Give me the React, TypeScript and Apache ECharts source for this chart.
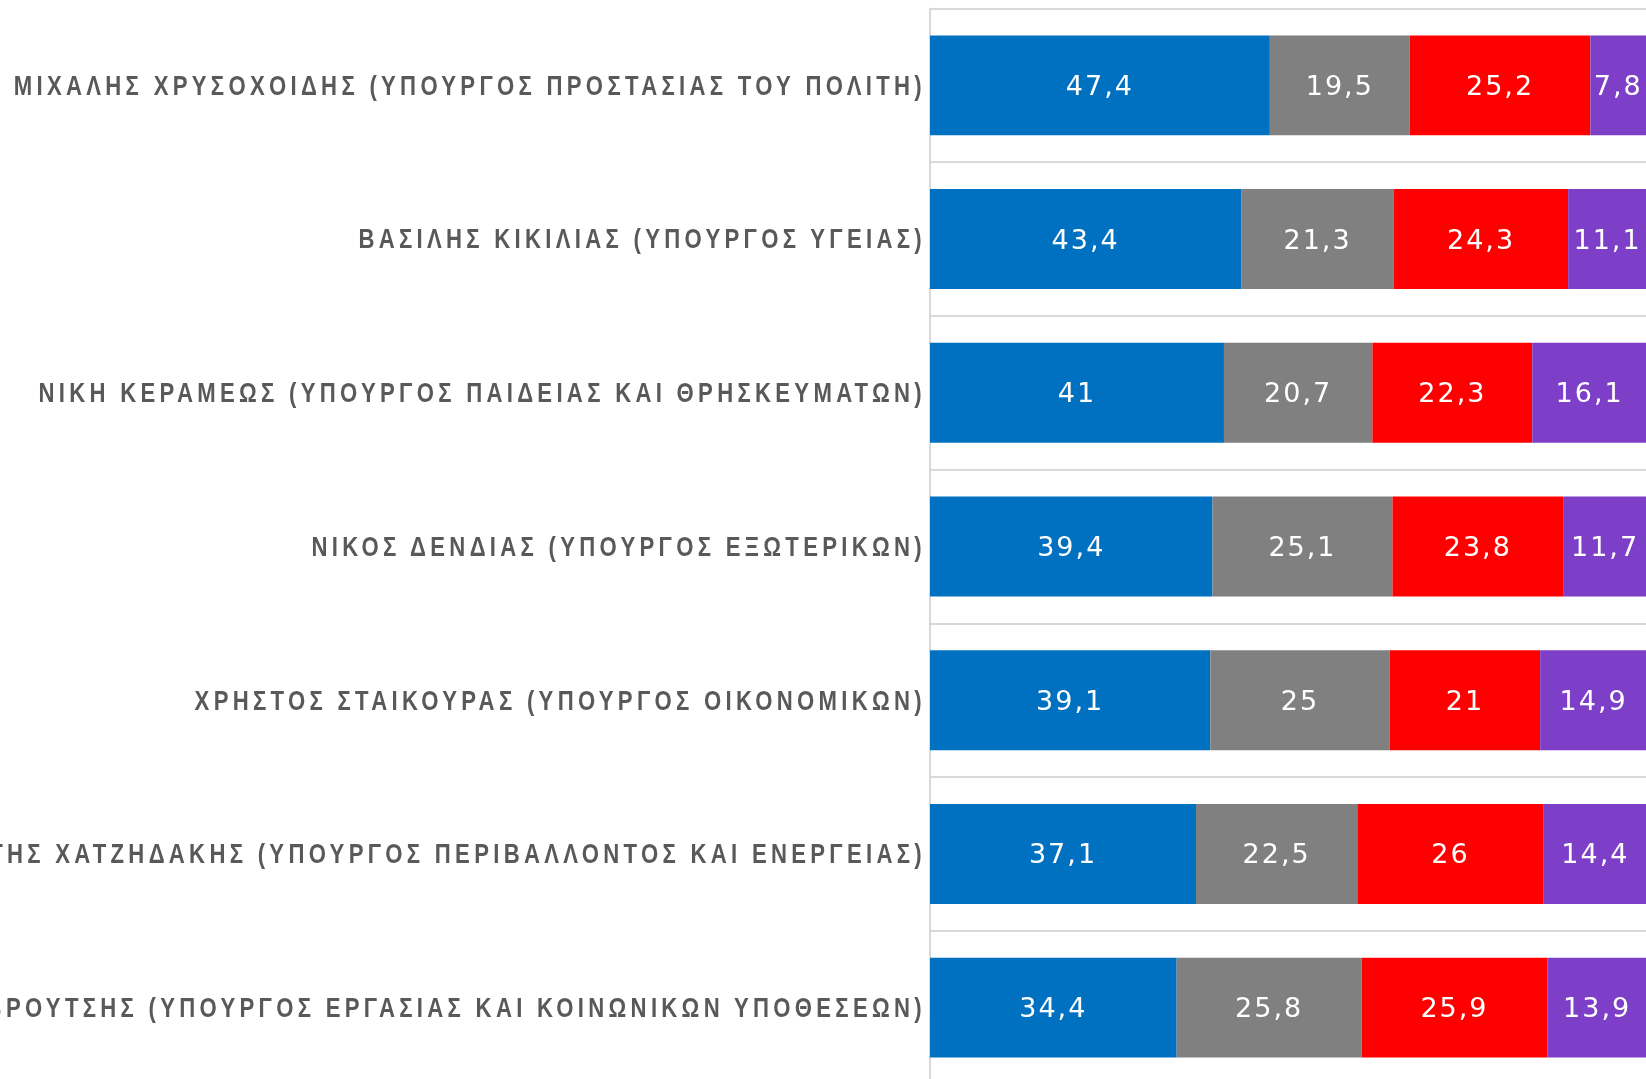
import React, { useEffect, useRef } from "react";
import * as echarts from "echarts";

const categories = [
  "ΜΙΧΑΛΗΣ ΧΡΥΣΟΧΟΙΔΗΣ (ΥΠΟΥΡΓΟΣ ΠΡΟΣΤΑΣΙΑΣ ΤΟΥ ΠΟΛΙΤΗ)",
  "ΒΑΣΙΛΗΣ ΚΙΚΙΛΙΑΣ (ΥΠΟΥΡΓΟΣ ΥΓΕΙΑΣ)",
  "ΝΙΚΗ ΚΕΡΑΜΕΩΣ (ΥΠΟΥΡΓΟΣ ΠΑΙΔΕΙΑΣ ΚΑΙ ΘΡΗΣΚΕΥΜΑΤΩΝ)",
  "ΝΙΚΟΣ ΔΕΝΔΙΑΣ (ΥΠΟΥΡΓΟΣ ΕΞΩΤΕΡΙΚΩΝ)",
  "ΧΡΗΣΤΟΣ ΣΤΑΙΚΟΥΡΑΣ (ΥΠΟΥΡΓΟΣ ΟΙΚΟΝΟΜΙΚΩΝ)",
  "ΚΩΣΤΗΣ ΧΑΤΖΗΔΑΚΗΣ (ΥΠΟΥΡΓΟΣ ΠΕΡΙΒΑΛΛΟΝΤΟΣ ΚΑΙ ΕΝΕΡΓΕΙΑΣ)",
  "ΓΙΑΝΝΗΣ ΒΡΟΥΤΣΗΣ (ΥΠΟΥΡΓΟΣ ΕΡΓΑΣΙΑΣ ΚΑΙ ΚΟΙΝΩΝΙΚΩΝ ΥΠΟΘΕΣΕΩΝ)",
];

const seriesNames = ["Θετική", "Ουδέτερη", "Αρνητική", "ΔΓ/ΔΑ"];
const positive = [47.4, 43.4, 41, 39.4, 39.1, 37.1, 34.4];
const neutral = [19.5, 21.3, 20.7, 25.1, 25, 22.5, 25.8];
const negative = [25.2, 24.3, 22.3, 23.8, 21, 26, 25.9];
const noAnswer = [7.8, 11.1, 16.1, 11.7, 14.9, 14.4, 13.9];
const colors = ["#0070C0", "#808080", "#FF0000", "#7E3FC8"];

const CAT_SCALE_X = 0.82;
const CAT_SPACING = 4.3;
const VAL_SPACING = 2;

export default function App() {
  const ref = useRef<HTMLDivElement>(null);
  useEffect(() => {
    if (!ref.current) return;
    const el = ref.current;
    const chart = echarts.init(el, null, { renderer: "svg" });
    const values = [positive, neutral, negative, noAnswer];
    chart.setOption({
      animation: false,
      grid: {
        left: 930,
        top: 8.5,
        width: 717,
        height: 1076,
        containLabel: false,
        outerBoundsMode: "none",
      },
      xAxis: {
        type: "value",
        min: 0,
        max: 100,
        show: false,
      },
      yAxis: {
        type: "category",
        data: categories,
        inverse: true,
        axisLine: { show: true, lineStyle: { color: "#d9d9d9", width: 2 } },
        axisTick: { show: false },
        splitLine: { show: true, lineStyle: { color: "#d9d9d9", width: 2 } },
        axisLabel: {
          color: "#595959",
          fontFamily: "'Liberation Sans', Arial, sans-serif",
          fontWeight: "bold",
          fontSize: 27,
          margin: 4,
        },
      },
      series: values.map((v, i) => ({
        name: seriesNames[i],
        type: "bar",
        stack: "total",
        data: v,
        barWidth: "65%",
        silent: true,
        itemStyle: { color: colors[i] },
        label: {
          show: true,
          position: "inside",
          color: "#ffffff",
          fontFamily: "DejaVu Sans",
          fontSize: 27,
          formatter: (p: any) => String(p.value).replace(".", ","),
        },
      })),
    });
    const applySpacing = () => {
      const texts = el.querySelectorAll("svg text");
      texts.forEach((t) => {
        const s = t.textContent || "";
        if (categories.includes(s)) {
          t.setAttribute("letter-spacing", String(CAT_SPACING / CAT_SCALE_X));
          let orig = t.getAttribute("data-orig-transform");
          if (orig === null) {
            orig = t.getAttribute("transform") || "";
            t.setAttribute("data-orig-transform", orig);
          }
          t.setAttribute("transform", `${orig} scale(${CAT_SCALE_X},1)`);
        } else {
          t.setAttribute("letter-spacing", String(VAL_SPACING));
        }
      });
    };
    applySpacing();
    chart.on("finished", applySpacing);
    const raf = requestAnimationFrame(applySpacing);
    return () => {
      cancelAnimationFrame(raf);
      chart.dispose();
    };
  }, []);
  return (
    <div
      ref={ref}
      style={{ position: "fixed", left: 0, top: 0, width: 1646, height: 1079 }}
    />
  );
}
